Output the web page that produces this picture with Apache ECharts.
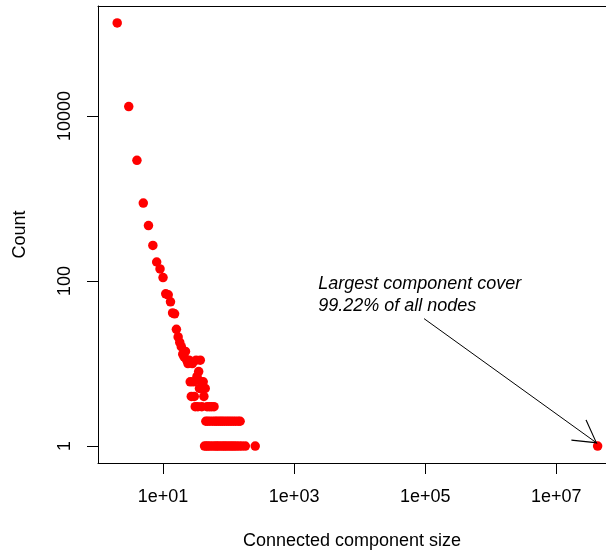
<!DOCTYPE html>
<html><head><meta charset="utf-8">
<script src="https://cdn.jsdelivr.net/npm/echarts@6/dist/echarts.min.js"></script>
<style>html,body{margin:0;padding:0;background:#fff}#c{width:606px;height:556px}</style>
</head><body><div id="c"></div>
<script>
// component sizes and how many components have that size
const sizes = [2,3,4,5,6,7,8,9,10,11,12,13,14,15,16,17,18,19,20,21,22,23,24,25,26,27,28,29,30,31,32,33,34,35,36,37,38,39,40,41,42,43,44,45,46,47,48,49,
  51,52,53,55,57,58,60,62,63,66,67,71,72,76,78,81,84,87,90,94,97,101,105,109,113,118,122,128,132,140,145,150,160,180,255,
  42700000];
const counts = [134000,13000,2900,880,470,270,170,140,110,70,68,56,41,40,26,21,18,16,13,12,14,11,10,11,6,4,10,6,4,3,11,7,3,8,5,11,6,3,5,6,4,1,5,2,1,3,2,1,
  3,2,1,3,2,1,3,2,1,2,1,2,1,2,1,2,1,2,1,2,1,2,1,2,1,2,1,2,1,2,1,2,1,1,1,
  1];
const xTicks = [10, 1000, 100000, 10000000];
const yTicks = [1, 100, 10000];
const xName = 'Connected component size';
const yName = 'Count';
const noteLines = ['Largest component cover', '99.22% of all nodes'];
const noteAnchor = [2330, 67.6];
const arrowStart = [96000, 35];
const arrowEnd = [42000000, 1.08];
// visible range (plot is cropped at the right edge of the picture)
const xRange = [Math.pow(10, 0.008), Math.pow(10, 7.758)];
const yRange = [Math.pow(10, -0.205), Math.pow(10, 5.332)];

const FONT = 'Liberation Sans';
const FS = 18;
const chevron = 'path://M13,-23L13,-23Z M13,0L26,22.5L25,23.2L13,2.2L1,23.2L0,22.5Z';

const chart = echarts.init(document.getElementById('c'), null, {renderer: 'canvas'});
chart.setOption({
  animation: false,
  backgroundColor: '#ffffff',
  textStyle: {fontFamily: FONT},
  grid: {left: 98, right: 0, top: 6, bottom: 93, show: false},
  xAxis: [{
    type: 'log', logBase: 10, min: xRange[0], max: xRange[1],
    name: xName, nameLocation: 'middle', nameGap: 69,
    nameTextStyle: {fontFamily: FONT, fontSize: FS, color: '#000'},
    axisLine: {show: true, lineStyle: {color: '#000', width: 1}},
    axisTick: {show: true, inside: false, length: 11, customValues: xTicks, lineStyle: {color: '#000'}},
    axisLabel: {show: true, customValues: xTicks, margin: 25, fontFamily: FONT, fontSize: FS, color: '#000',
      formatter: v => '1e+' + String(Math.round(Math.log10(v))).padStart(2, '0')},
    splitLine: {show: false}, minorTick: {show: false}
  }, {
    type: 'log', logBase: 10, min: xRange[0], max: xRange[1], position: 'top',
    axisLine: {show: true, lineStyle: {color: '#000', width: 1}},
    axisTick: {show: false}, axisLabel: {show: false}, splitLine: {show: false}
  }],
  yAxis: {
    type: 'log', logBase: 10, min: yRange[0], max: yRange[1],
    name: yName, nameLocation: 'middle', nameGap: 69, nameRotate: 90,
    nameTextStyle: {fontFamily: FONT, fontSize: FS, color: '#000'},
    axisLine: {show: true, lineStyle: {color: '#000', width: 1}},
    axisTick: {show: true, inside: false, length: 11, customValues: yTicks, lineStyle: {color: '#000'}},
    axisLabel: {show: true, customValues: yTicks, margin: 24, rotate: 90, fontFamily: FONT, fontSize: FS, color: '#000',
      formatter: v => String(Math.round(v))},
    splitLine: {show: false}, minorTick: {show: false}
  },
  series: [{
    type: 'scatter',
    xAxisIndex: 0,
    data: sizes.map((s, i) => [s, counts[i]]),
    symbol: 'circle', symbolSize: 9.5,
    itemStyle: {color: '#ff0000', opacity: 1},
    silent: true,
    markLine: {
      silent: true, animation: false,
      label: {show: false},
      lineStyle: {color: '#000', width: 1, type: 'solid'},
      emphasis: {disabled: true},
      data: [[
        {coord: arrowStart, symbol: 'none', symbolSize: 0},
        {coord: arrowEnd, symbol: chevron, symbolSize: [26, 46.2], itemStyle: {color: '#000'}}
      ]]
    },
    markPoint: {
      silent: true, animation: false,
      symbol: 'circle', symbolSize: 0,
      itemStyle: {color: 'transparent'},
      label: {show: true, position: 'right', distance: 0, align: 'left', verticalAlign: 'middle',
        formatter: noteLines.join('\n'), fontFamily: FONT, fontStyle: 'italic', fontSize: FS, lineHeight: 22, color: '#000'},
      data: [{coord: noteAnchor, value: 0}]
    }
  }]
});
</script>
</body></html>
